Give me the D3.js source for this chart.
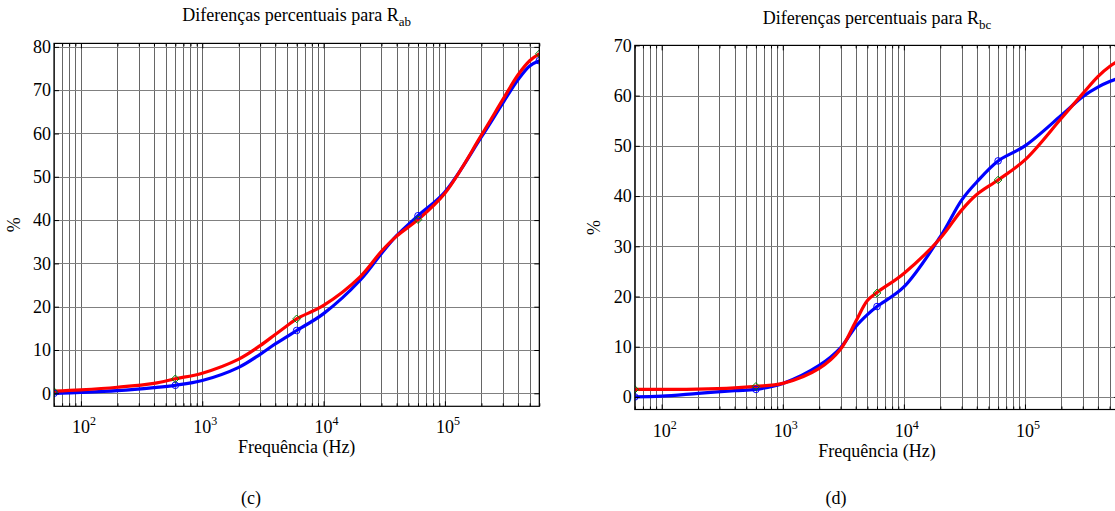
<!DOCTYPE html>
<html><head><meta charset="utf-8">
<script src="https://cdn.jsdelivr.net/npm/d3@7"></script>
<style>
body{margin:0;background:#fff}
svg{display:block}
svg text{font-family:"Liberation Serif","Times New Roman",Times,serif !important;fill:#000}
</style>
</head><body>
<svg id="c" width="1115" height="511" font-family="Liberation Serif"></svg>
<script>
// ---- data ----
const freqs = [60,100,200,400,600,1000,2000,3000,4000,5000,6000,10000,20000,30000,40000,60000,100000,200000,300000,400000,500000,600000];
const rabBlue = [0.0,0.2,0.6,1.3,1.85,2.95,6.0,9.0,11.4,13.1,14.5,18.4,26.1,32.3,36.4,41.0,46.5,59.2,67.0,72.4,75.6,76.8];
const rabRed  = [0.5,0.8,1.4,2.3,3.35,4.65,7.9,11.0,13.6,15.6,17.2,20.3,26.9,32.8,36.3,40.1,46.2,59.6,67.8,73.5,76.8,78.4];
const rbcBlue = [0.0,0.15,0.7,1.25,1.5,2.7,6.3,9.8,14.0,16.4,18.0,21.9,31.9,39.2,42.8,47.0,50.0,56.1,59.8,61.7,62.8,63.5];
const rbcRed  = [1.5,1.5,1.55,1.8,2.1,2.7,5.7,9.5,15.0,19.2,20.8,24.6,31.6,37.2,40.3,43.2,47.2,55.5,60.4,63.8,65.8,67.0];
const markerFreqs = [60,600,6000,60000,600000];
const rabCircles  = [0.0,1.85,14.5,41.0,76.8];
const rabDiamonds = [0.4,3.35,17.2,40.1,78.4];
const rbcCircles  = [0.0,1.5,18.0,47.0,63.5];
const rbcDiamonds = [1.5,2.1,20.7,43.2,67.0];
const xDomain = [60,600000];
const majorX = [100,1000,10000,100000];
const majorExp = ["2","3","4","5"];
const rabYTicks = [0,10,20,30,40,50,60,70,80];
const rbcYTicks = [0,10,20,30,40,50,60,70];
const titles = [["Diferenças percentuais para R","ab"],["Diferenças percentuais para R","bc"]];
const xLabel = "Frequência (Hz)";
const yLabel = "%";
const panelLabels = ["(c)","(d)"];

const FONT = '"Liberation Serif","Times New Roman",Times,serif';
const svg = d3.select("#c");

function panel(cfg){
  const g = svg.append("g");
  const x = d3.scaleLog().domain(xDomain).range([cfg.x0,cfg.x1]);
  const y = d3.scaleLinear().domain(cfg.yDomain).range([cfg.yBot,cfg.yTop]);
  const H = cfg.yBot-cfg.yTop, W = cfg.x1-cfg.x0;
  const allX = x.ticks();
  const minorX = allX.filter(v=>!majorX.includes(v));

  g.append("g").attr("transform",`translate(0,${cfg.yBot})`)
    .call(d3.axisBottom(x).tickValues(allX).tickSize(-H).tickFormat(""))
    .call(s=>{s.select(".domain").remove();s.selectAll("line").attr("stroke","#666").attr("stroke-width",1).attr("shape-rendering","crispEdges");});
  g.append("g").attr("transform",`translate(${cfg.x0},0)`)
    .call(d3.axisLeft(y).tickValues(cfg.yTicks).tickSize(-W).tickFormat(""))
    .call(s=>{s.select(".domain").remove();s.selectAll("line").attr("stroke","#808080").attr("stroke-width",1).attr("shape-rendering","crispEdges");});

  const cid = "clip"+cfg.id;
  svg.append("clipPath").attr("id",cid).append("rect")
    .attr("x",cfg.x0).attr("y",cfg.yTop).attr("width",W).attr("height",H);
  const plot = g.append("g").attr("clip-path",`url(#${cid})`);
  const line = d3.line().x(d=>x(d[0])).y(d=>y(d[1])).curve(d3.curveCatmullRom.alpha(0.5));
  plot.append("path").datum(freqs.map((f,i)=>[f,cfg.blue[i]]))
    .attr("d",line).attr("fill","none").attr("stroke","#0000ff").attr("stroke-width",3.2).attr("stroke-linejoin","round");
  plot.append("path").datum(freqs.map((f,i)=>[f,cfg.red[i]]))
    .attr("d",line).attr("fill","none").attr("stroke","#ff0000").attr("stroke-width",3.2).attr("stroke-linejoin","round");
  plot.selectAll("circle.m").data(markerFreqs.map((f,i)=>[f,cfg.circles[i]])).join("circle")
    .attr("cx",d=>x(d[0])).attr("cy",d=>y(d[1])).attr("r",3.3)
    .attr("fill","none").attr("stroke","#0000ff").attr("stroke-width",1);
  plot.selectAll("path.dm").data(markerFreqs.map((f,i)=>[f,cfg.diamonds[i]])).join("path")
    .attr("class","dm")
    .attr("d",d=>{const cx=x(d[0]),cy=y(d[1]),s=3.8;return `M${cx},${cy-s}L${cx+s},${cy}L${cx},${cy+s}L${cx-s},${cy}Z`;})
    .attr("fill","none").attr("stroke","#008000").attr("stroke-width",1);

  g.append("rect").attr("x",cfg.x0).attr("y",cfg.yTop).attr("width",W).attr("height",H)
    .attr("fill","none").attr("stroke","#000").attr("stroke-width",1.2);

  const tk = (sel)=>sel.call(s=>{s.select(".domain").remove();s.selectAll("line").attr("stroke","#000");});
  g.append("g").attr("transform",`translate(0,${cfg.yBot})`).call(d3.axisBottom(x).tickValues(majorX).tickSize(-5).tickFormat("")).call(tk);
  g.append("g").attr("transform",`translate(0,${cfg.yBot})`).call(d3.axisBottom(x).tickValues(minorX).tickSize(-3).tickFormat("")).call(tk);
  g.append("g").attr("transform",`translate(0,${cfg.yTop})`).call(d3.axisTop(x).tickValues(majorX).tickSize(-5).tickFormat("")).call(tk);
  g.append("g").attr("transform",`translate(0,${cfg.yTop})`).call(d3.axisTop(x).tickValues(minorX).tickSize(-3).tickFormat("")).call(tk);
  g.append("g").attr("transform",`translate(${cfg.x1},0)`).call(d3.axisRight(y).tickValues(cfg.yTicks).tickSize(-5).tickFormat("")).call(tk);
  g.append("g").attr("transform",`translate(${cfg.x0},0)`)
    .call(d3.axisLeft(y).tickValues(cfg.yTicks).tickSize(-5).tickPadding(3).tickFormat(d3.format("d")))
    .call(s=>{s.attr("font-family",FONT);s.select(".domain").remove();s.selectAll("line").attr("stroke","#000");
      s.selectAll("text").style("font-family",FONT).attr("font-size",18).attr("fill","#000");});

  majorX.forEach((v,i)=>{
    const t = g.append("text").attr("x",x(v)+3).attr("y",cfg.yBot+cfg.xtDy).attr("text-anchor","middle")
      .style("font-family",FONT).attr("font-size",18);
    t.append("tspan").text("10");
    t.append("tspan").attr("dy",-8).attr("font-size",12).text(majorExp[i]);
  });
  g.append("text").attr("x",(cfg.x0+cfg.x1)/2).attr("y",cfg.yBot+cfg.xlDy).attr("text-anchor","middle")
    .style("font-family",FONT).attr("font-size",18).text(xLabel);
  g.append("text").attr("transform",`translate(${cfg.ylX},${(cfg.yTop+cfg.yBot)/2}) rotate(-90)`).attr("text-anchor","middle")
    .style("font-family",FONT).attr("font-size",18).text(yLabel);
  const tt = g.append("text").attr("x",(cfg.x0+cfg.x1)/2).attr("y",cfg.titleY).attr("text-anchor","middle")
    .style("font-family",FONT).attr("font-size",18);
  tt.append("tspan").text(cfg.title[0]);
  tt.append("tspan").attr("dy",5).attr("font-size",13).text(cfg.title[1]);
  g.append("text").attr("x",cfg.plX).attr("y",504).attr("text-anchor","middle")
    .style("font-family",FONT).attr("font-size",18).text(cfg.pl);
}

panel({id:"a",x0:54,x1:539.3,yTop:43.4,yBot:406.3,yDomain:[-3,80.8],yTicks:rabYTicks,
  blue:rabBlue,red:rabRed,circles:rabCircles,diamonds:rabDiamonds,
  xtDy:27,xlDy:47,ylX:20,titleY:21,title:titles[0],plX:251,pl:panelLabels[0]});
panel({id:"b",x0:634.8,x1:1119.2,yTop:45.4,yBot:409.5,yDomain:[-2.5,70],yTicks:rbcYTicks,
  blue:rbcBlue,red:rbcRed,circles:rbcCircles,diamonds:rbcDiamonds,
  xtDy:27,xlDy:47,ylX:600,titleY:24,title:titles[1],plX:836,pl:panelLabels[1]});
</script>
</body></html>
